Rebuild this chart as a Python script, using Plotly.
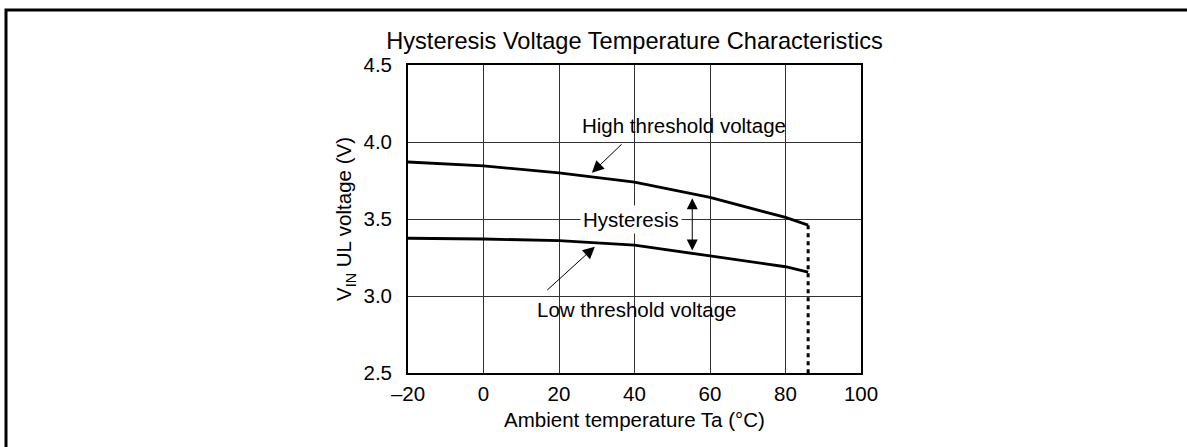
import plotly.graph_objects as go

# Data
temp = [-20, 0, 20, 40, 60, 80, 86]
high_v = [3.87, 3.845, 3.80, 3.74, 3.64, 3.51, 3.46]
low_v = [3.375, 3.37, 3.36, 3.33, 3.26, 3.19, 3.155]
x_ticks = [-20, 0, 20, 40, 60, 80, 100]
x_ticktext = ["\u201320", "0", "20", "40", "60", "80", "100"]
y_ticks = [2.5, 3.0, 3.5, 4.0, 4.5]

FONT = "Liberation Sans, Arial, sans-serif"
FS = 20.5

fig = go.Figure()
fig.add_trace(go.Scatter(x=temp, y=high_v, mode="lines",
                         line=dict(color="black", width=2.8), showlegend=False))
fig.add_trace(go.Scatter(x=temp, y=low_v, mode="lines",
                         line=dict(color="black", width=2.8), showlegend=False))
fig.add_trace(go.Scatter(x=[temp[-1], temp[-1]], y=[high_v[-1], y_ticks[0]], mode="lines",
                         line=dict(color="black", width=3, dash="4px,4px"), showlegend=False))

ann = []
# High threshold label + arrow
ann.append(dict(x=53, y=4.11, text="High threshold voltage", showarrow=False,
                font=dict(size=FS, color="black", family=FONT)))
ann.append(dict(x=28.7, y=3.80, ax=37.0, ay=3.995, axref="x", ayref="y",
                text="", showarrow=True, arrowhead=2, arrowsize=2.4, arrowwidth=1, arrowcolor="black"))
# Low threshold label + arrow
ann.append(dict(x=40.4, y=2.91, text="Low threshold voltage", showarrow=False,
                font=dict(size=FS, color="black", family=FONT)))
ann.append(dict(x=29.5, y=3.32, ax=16.5, ay=3.03, axref="x", ayref="y",
                text="", showarrow=True, arrowhead=2, arrowsize=2.4, arrowwidth=1, arrowcolor="black"))
# Hysteresis label + double arrow
ann.append(dict(x=39.2, y=3.5, text="Hysteresis", showarrow=False, bgcolor="white",
                borderpad=2, font=dict(size=FS, color="black", family=FONT)))
ann.append(dict(x=55.3, y=3.635, ax=55.3, ay=3.285, axref="x", ayref="y",
                text="", showarrow=True, arrowhead=2, startarrowhead=2, arrowside="end+start",
                arrowsize=2.2, startarrowsize=2.2, arrowwidth=1, arrowcolor="black"))

fig.update_layout(
    width=1187, height=447,
    margin=dict(l=408, r=326, t=65, b=74),
    paper_bgcolor="white", plot_bgcolor="white",
    font=dict(family=FONT, size=FS, color="black"),
    title=dict(text="Hysteresis Voltage Temperature Characteristics",
               x=0.5, xref="paper", xanchor="center", y=1.0, yref="paper", yanchor="bottom",
               pad=dict(b=16), font=dict(size=23.6, color="black", family=FONT)),
    annotations=ann,
    shapes=[dict(type="rect", xref="paper", yref="paper",
                 x0=(6 - 408) / 453, x1=(1195 - 408) / 453,
                 y0=(373 - 460) / 308, y1=(373 - 10) / 308,
                 line=dict(color="black", width=3), layer="above")],
)
fig.update_xaxes(range=[-20, 100], tickvals=x_ticks, ticktext=x_ticktext,
                 showgrid=True, gridcolor="#333", gridwidth=1,
                 showline=True, linecolor="black", linewidth=1.8, mirror=True,
                 ticks="", zeroline=False, ticklabelstandoff=1,
                 title=dict(text="Ambient temperature Ta (\u00b0C)", standoff=9,
                            font=dict(size=FS, family=FONT)),
                 tickfont=dict(size=FS, family=FONT))
fig.update_yaxes(range=[2.5, 4.5], tickvals=y_ticks, tickformat=".1f",
                 showgrid=True, gridcolor="#333", gridwidth=1,
                 showline=True, linecolor="black", linewidth=1.8, mirror=True,
                 ticks="", zeroline=False, ticklabelstandoff=10,
                 title=dict(text="V<sub>IN</sub> UL voltage (V)", standoff=6,
                            font=dict(size=FS, family=FONT)),
                 tickfont=dict(size=FS, family=FONT))

fig.write_html("out.html", config={"displayModeBar": False},
               post_script="document.body.style.margin='0';")
